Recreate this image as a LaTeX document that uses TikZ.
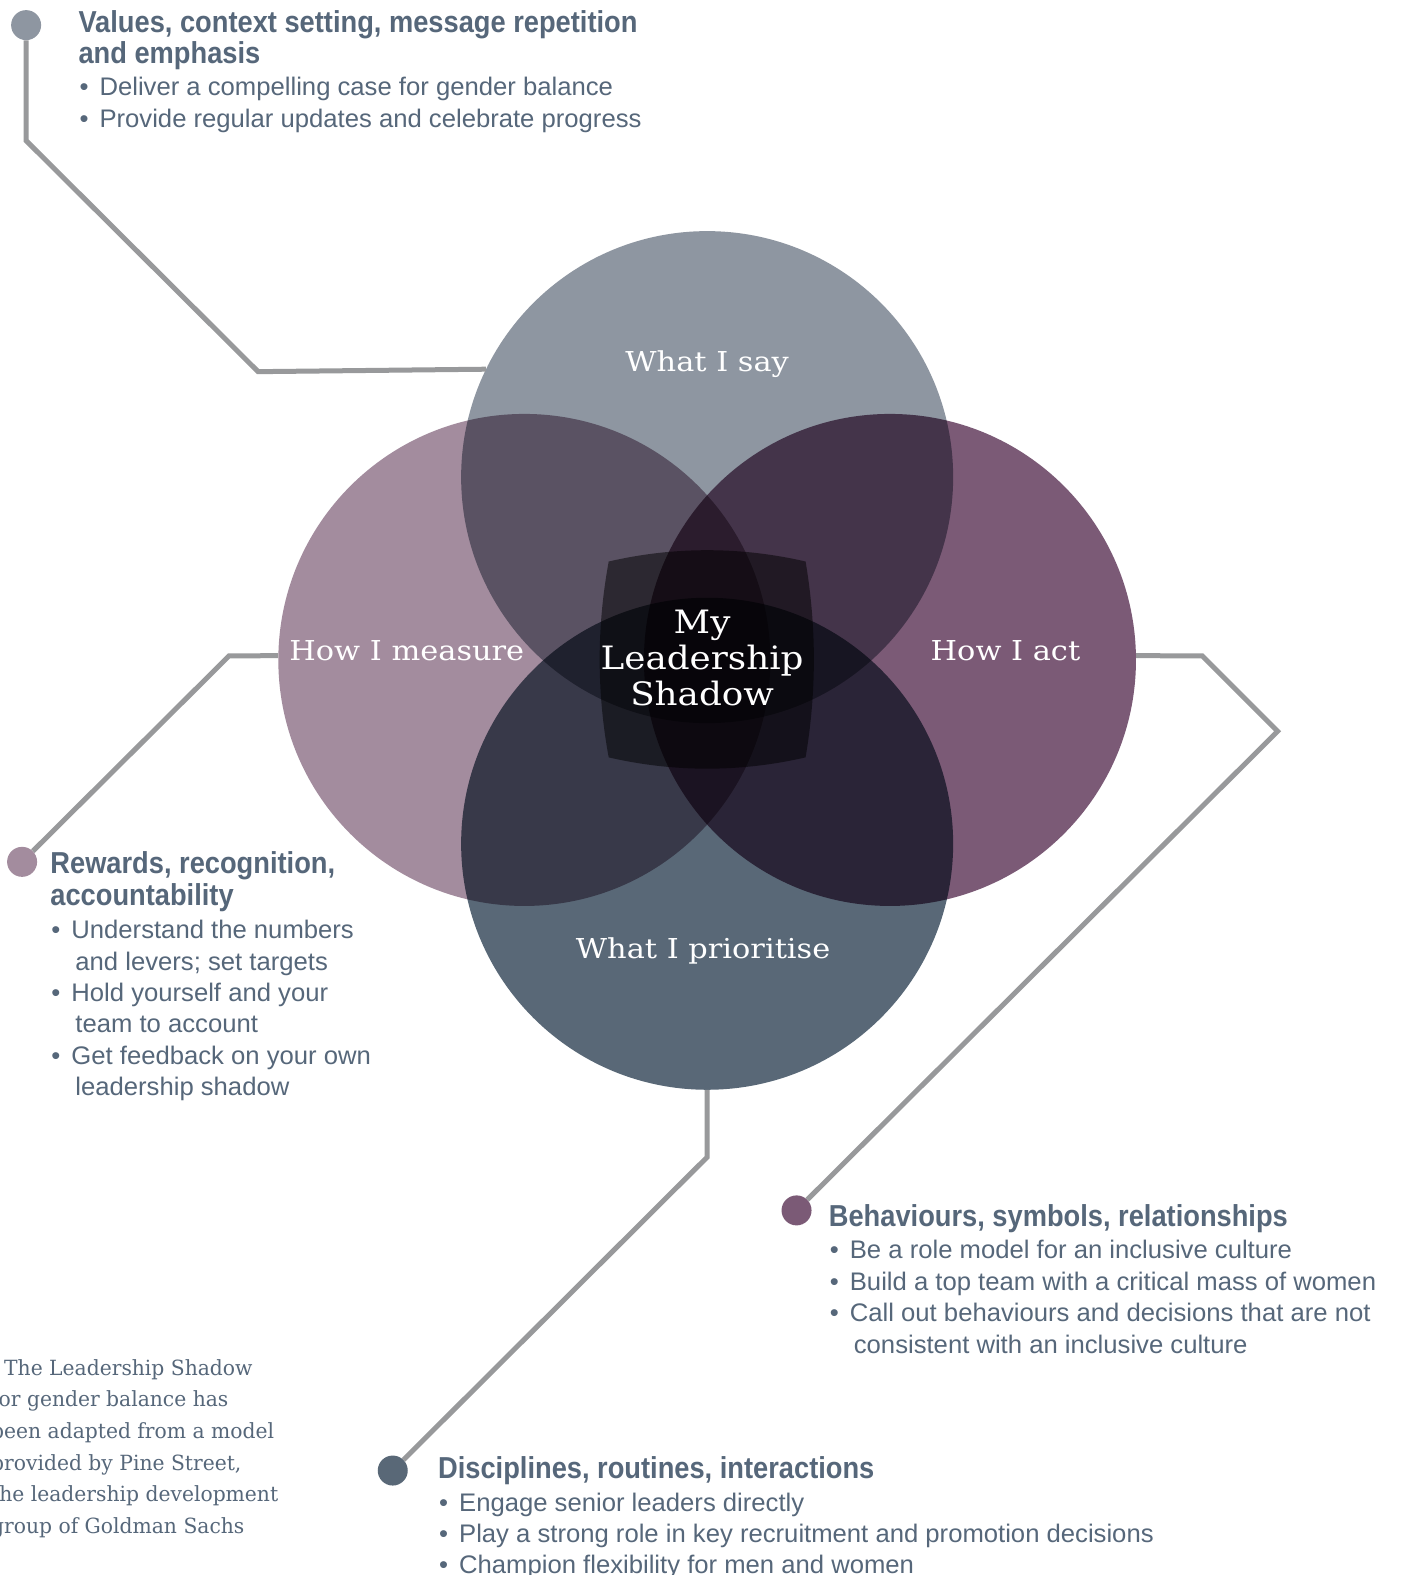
\documentclass[tikz,border=0pt]{standalone}
\usepackage{fontspec}
\usetikzlibrary{positioning}
\newfontfamily\labelfont{DejaVu Serif}[FakeStretch=1.11]
\newfontfamily\notefont{DejaVu Serif}[FakeStretch=0.97]
\newfontfamily\headfont{Liberation Sans}[FakeStretch=0.90]
\newfontfamily\bodyfont{Liberation Sans}[FakeStretch=1.01]
\definecolor{saycol}{HTML}{8E96A1}
\definecolor{measurecol}{HTML}{A38C9E}
\definecolor{actcol}{HTML}{7B5A76}
\definecolor{prioritisecol}{HTML}{596877}
\definecolor{textcol}{HTML}{56677A}
\definecolor{linkcol}{HTML}{98999B}
\newcommand{\hd}{\headfont\bfseries\fontsize{30.4}{31.5}\selectfont}
\newcommand{\itm}{\makebox[21bp][l]{\hspace{1bp}\textbullet}}
\newcommand{\cnt}{\hspace*{25bp}}
\tikzset{
  ring/.style={circle, minimum size=492bp, inner sep=0pt},
  calldot/.style={circle, minimum size=30bp, inner sep=0pt},
  link/.style={draw=linkcol, line width=5bp},
  ringlabel/.style={text=white, font=\labelfont\fontsize{27.5}{30}\selectfont},
  callout/.style={anchor=north west, inner sep=0pt, align=left, text=textcol,
    font=\bodyfont\fontsize{25.5}{31.5}\selectfont},
}

\begin{document}
\begin{tikzpicture}[x=1.00446bp, y=-1.00446bp]
 \fill[white] (0,0) rectangle (1401.7,1568);
 \useasboundingbox (0,0) rectangle (1401.7,1568);

 % the four circles
 \begin{scope}[blend group=multiply]
  \node[ring, fill=saycol] (say) at (704,475) {};
  \node[ring, fill=measurecol] (measure) at (522,657) {};
  \node[ring, fill=actcol] (act) at (886,657) {};
  \node[ring, fill=prioritisecol] (prioritise) at (704,840) {};
 \end{scope}
 \fill[black, fill opacity=0.5] (606,559) .. controls (671,544) and (737,544) .. (802,559)
   .. controls (813,624) and (813,689) .. (802,754)
   .. controls (737,769) and (671,769) .. (606,754)
   .. controls (594,689) and (594,624) .. (606,559);

 \node[ringlabel] (saylbl) at (704,363) {What I say};
 \node[ringlabel] (measurelbl) at (405,648) {How I measure};
 \node[ringlabel] (actlbl) at (1001,648) {How I act};
 \node[ringlabel] (prioritiselbl) at (700,947) {What I prioritise};
 \node[text=white, align=center, font=\labelfont\fontsize{32.3}{36.5}\selectfont] (shadow) at (699,655) {My\\Leadership\\Shadow};

 % callout dots
 \node[calldot, fill=saycol] (saydot) at (26,25) {};
 \node[calldot, fill=measurecol] (measuredot) at (22,858) {};
 \node[calldot, fill=actcol] (actdot) at (793,1205) {};
 \node[calldot, fill=prioritisecol] (prioritisedot) at (391,1464) {};

 \draw[link] (saydot) -- (26,140) -- (257,370) -- (say.154.6);
 \draw[link] (measuredot) -- (228,653) -- (measure.179);
 \draw[link] (act.1) -- (1197,653) -- (1272,728) -- (actdot);
 \draw[link] (prioritise.south) -- (704,1152) -- (prioritisedot);

 % callout texts
 \node[callout] (saytxt) at (78,10) {{\hd Values, context setting, message repetition}\\
   {\hd and emphasis}\\[1bp]
   \itm Deliver a compelling case for gender balance\\
   \itm Provide regular updates and celebrate progress};
 \node[callout] (measuretxt) at (50,848) {{\hd Rewards, recognition,}\\
   {\hd accountability}\\[2bp]
   \itm Understand the numbers\\
   \cnt and levers; set targets\\
   \itm Hold yourself and your\\
   \cnt team to account\\
   \itm Get feedback on your own\\
   \cnt leadership shadow};
 \node[callout] (acttxt) at (825,1199) {{\hd Behaviours, symbols, relationships}\\[1bp]
   \itm Be a role model for an inclusive culture\\
   \itm Build a top team with a critical mass of women\\
   \itm Call out behaviours and decisions that are not\\
   \cnt consistent with an inclusive culture};
 \node[callout] (prioritisetxt) at (436,1450) {{\hd Disciplines, routines, interactions}\\[1bp]
   \itm Engage senior leaders directly\\
   \itm Play a strong role in key recruitment and promotion decisions\\
   \itm Champion flexibility for men and women};

 \begin{scope}
  \clip (0,1300) rectangle (320,1568);
  \node[callout, font=\notefont\fontsize{21}{31.8}\selectfont] (credit) at (-9,1353)
   {\hspace*{13bp}The Leadership Shadow\\
    for gender balance has\\
    been adapted from a model\\
    provided by Pine Street,\\
    the leadership development\\
    group of Goldman Sachs};
 \end{scope}
\end{tikzpicture}
\end{document}
